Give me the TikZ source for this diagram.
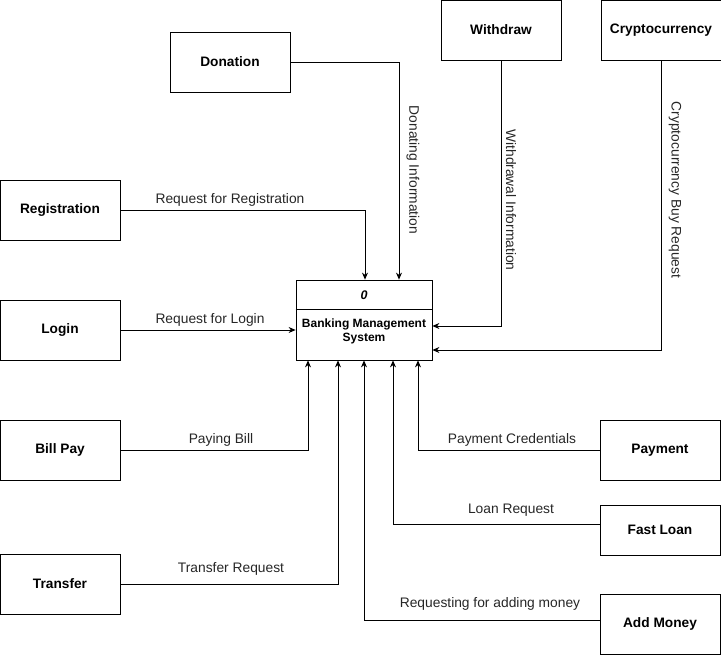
\documentclass[tikz,border=0pt]{standalone}
\usepackage{fontspec}
\setmainfont{Liberation Sans}
\usetikzlibrary{positioning}
\usetikzlibrary{arrows.meta}
\tikzset{
  extbox/.style={draw, line width=0.8pt, minimum width=120pt, minimum height=60pt,
    font=\fontsize{13.7}{16}\selectfont\bfseries},
  flow/.style={line width=0.8pt, -{Stealth[length=7pt,width=6pt]}},
  lbl/.style={font=\fontsize{13.8}{16}\selectfont, text=black!85, inner sep=1pt},
}

\begin{document}
\begin{tikzpicture}[x=1pt, y=-1pt]
    \useasboundingbox (0,0) rectangle (721,655);
    % process
    \node[draw, line width=0.8pt, minimum width=136pt, minimum height=80pt] (bms) at (364,320) {};
    \draw[line width=0.8pt] ([yshift=-30pt]bms.north west) -- ([yshift=-30pt]bms.north east);
    \node[font=\fontsize{12.5}{14}\selectfont\bfseries\itshape] (pid) at (364,295) {0};
    \node[font=\fontsize{12}{14}\selectfont\bfseries, align=center] (pname) at (364,331) {Banking Management\\System};
    % external entities
    \node[extbox] (don) at (230,62) {Donation};
    \node[extbox] (wdr) at (501,30) {Withdraw};
    \node[extbox] (cry) at (661,30) {Cryptocurrency};
    \node[extbox] (reg) at (60,210) {Registration};
    \node[extbox] (login) at (60,330) {Login};
    \node[extbox] (bill) at (60,450) {Bill Pay};
    \node[extbox] (trf) at (60,584) {Transfer};
    \node[extbox] (pay) at (660,450) {Payment};
    \node[extbox, minimum height=50pt] (loan) at (660,530) {Fast Loan};
    \node[extbox] (add) at (660,624) {Add Money};
    % data flows
    \draw[flow] (reg.east) -| ([xshift=1pt]bms.north);
    \draw[flow] (don.east) -| ([xshift=35pt]bms.north);
    \draw[flow] (login.east) -- (login.east -| bms.west);
    \draw[flow] (wdr.south) |- ([yshift=-6pt]bms.east);
    \draw[flow] (cry.south) |- ([yshift=-30pt]bms.east);
    \draw[flow] (bill.east) -| ([xshift=-56pt]bms.south);
    \draw[flow] (trf.east) -| ([xshift=-26pt]bms.south);
    \draw[flow] ([yshift=3.5pt]add.west) -| (bms.south);
    \draw[flow] ([yshift=6pt]loan.west) -| ([xshift=29pt]bms.south);
    \draw[flow] (pay.west) -| ([xshift=54pt]bms.south);
    % flow labels
    \node[lbl] (l-reg) at (230,200) {Request for Registration};
    \node[lbl] (l-login) at (210,320) {Request for Login};
    \node[lbl] (l-bill) at (221,440) {Paying Bill};
    \node[lbl] (l-trf) at (231,569) {Transfer Request};
    \node[lbl] (l-pay) at (512,440) {Payment Credentials};
    \node[lbl] (l-loan) at (511,510) {Loan Request};
    \node[lbl] (l-add) at (490,604) {Requesting for adding money};
    \node[lbl, rotate=-90] (l-don) at (413,170) {Donating Information};
    \node[lbl, rotate=-90] (l-wdr) at (511,200) {Withdrawal Information};
    \node[lbl, rotate=-90] (l-cry) at (675,190) {Cryptocurrency Buy Request};
\end{tikzpicture}
\end{document}
